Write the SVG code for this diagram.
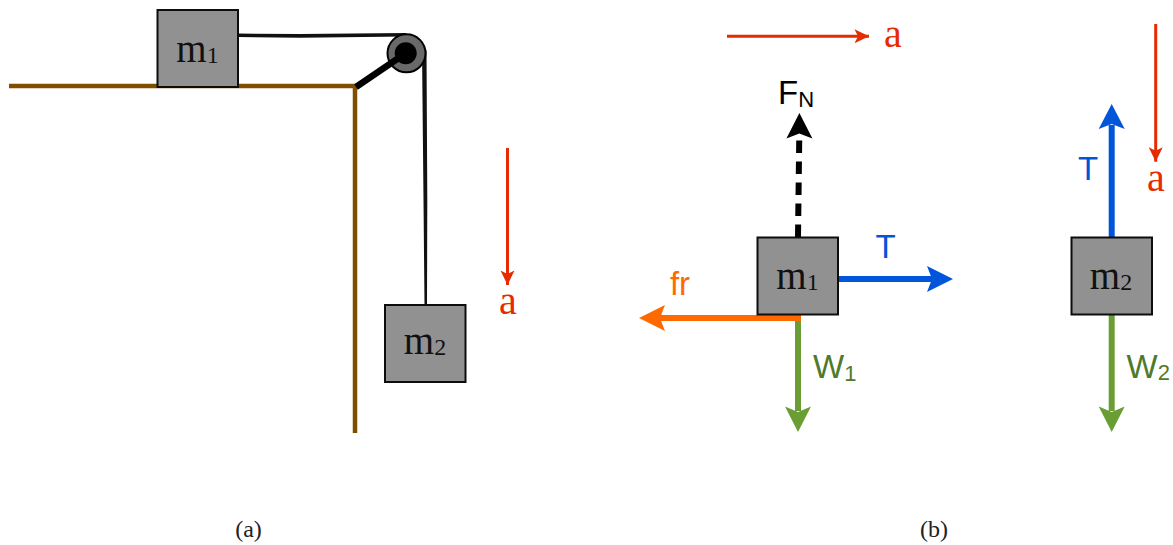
<svg xmlns="http://www.w3.org/2000/svg" width="1173" height="545" viewBox="0 0 1173 545">
<style>
.block{fill:#919191;stroke:#0d0d0d;stroke-width:2}
.serif{font-family:"Liberation Serif","Times New Roman",serif}
.sans{font-family:"Liberation Sans",Arial,sans-serif}
.m{font-size:39px;fill:#111;text-anchor:middle}
.sub{font-size:24px}
.a{font-size:40px;fill:#e62b00;text-anchor:middle}
.cap{font-size:24px;fill:#222;text-anchor:middle}
.f{font-size:33px}
.subf{font-size:22px}
.red{stroke:#e62b00;stroke-width:3;fill:none}
.force{stroke-width:6;fill:none}
</style>
<defs>
<marker id="hr" markerUnits="userSpaceOnUse" markerWidth="16" markerHeight="16" refX="15" refY="8" orient="auto"><path d="M15 8L0.500 1L4 8L0.500 15Z" fill="#e62b00"/></marker>
</defs>
<g id="ground" fill="none" stroke="#7f4e00" stroke-width="4.500">
<path d="M9 86H355V433"/>
</g>
<g id="connectors">
<path d="M238 33.500L300 34L406 33L406 36.500L300 37.800L238 37Z" fill="#111"/>
<path d="M422 50L426.500 50L427.300 200L427 305L424.500 305L423.500 200Z" fill="#111"/>
<path class="red" d="M507.500 148V285" marker-end="url(#hr)"/>
<path class="red" d="M727 36.300H869" marker-end="url(#hr)"/>
<path class="red" d="M1155.700 24V161.700" marker-end="url(#hr)"/>
<path class="force" stroke="#000" stroke-dasharray="12.500 8.500" d="M798 237L799.300 134"/>
<path fill="#000" d="M799.400 113L812.400 138.500L799.300 133.500L786.400 138.500Z"/>
<path class="force" stroke="#0055d9" d="M838 279H932"/>
<path fill="#0055d9" d="M953 279L927 266L932 279L927 292Z"/>
<path class="force" stroke="#0055d9" d="M1111.700 237V125"/>
<path fill="#0055d9" d="M1111.700 104L1098.700 129L1111.700 124L1124.700 129Z"/>
<path class="force" stroke="#6a9e35" d="M798 314V411"/>
<path fill="#6a9e35" d="M798 432L785 406.500L798 412L811 406.500Z"/>
<path class="force" stroke="#6a9e35" d="M1111.700 314V411"/>
<path fill="#6a9e35" d="M1111.700 432L1098.700 406.500L1111.700 412L1124.700 406.500Z"/>
<path class="force" stroke="#ff6a00" d="M801 318H660"/>
<path fill="#ff6a00" d="M639 318L665 305L660 318L665 331Z"/>
</g>
<g id="pulley">
<circle cx="406.500" cy="53.300" r="19" fill="#696969" stroke="#000" stroke-width="2"/>
<path d="M356 87L406 53" stroke="#000" stroke-width="6.500" fill="none"/>
<circle cx="405.700" cy="53.300" r="11" fill="#000"/>
</g>
<g id="m1a">
<rect class="block" x="157.500" y="10" width="80.500" height="77"/>
<text class="serif m" x="197.500" y="62">m<tspan class="sub" dy="1">1</tspan></text>
</g>
<g id="m2a">
<rect class="block" x="385" y="305" width="80.500" height="77"/>
<text class="serif m" x="425" y="354">m<tspan class="sub" dy="1">2</tspan></text>
</g>
<g id="m1b">
<rect class="block" x="757.500" y="237.500" width="80.500" height="77"/>
<text class="serif m" x="797.500" y="289">m<tspan class="sub" dy="1">1</tspan></text>
</g>
<g id="m2b">
<rect class="block" x="1071.500" y="237.500" width="80.500" height="77"/>
<text class="serif m" x="1111" y="289">m<tspan class="sub" dy="1">2</tspan></text>
</g>
<g id="labels">
<text class="serif a" x="508" y="314">a</text>
<text class="serif a" x="893" y="46.500">a</text>
<text class="serif a" x="1156" y="191">a</text>
<text class="sans f" x="778" y="104" fill="#000">F<tspan class="subf" dy="2.500">N</tspan></text>
<text class="sans f" x="885.600" y="258" text-anchor="middle" fill="#0055d9">T</text>
<text class="sans f" x="1088" y="180" text-anchor="middle" fill="#0055d9">T</text>
<text class="sans f" x="680" y="295" text-anchor="middle" fill="#ff6a00">fr</text>
<text class="sans f" x="813" y="378" fill="#4f7a2a">W<tspan class="subf" dy="2.500">1</tspan></text>
<text class="sans f" x="1126.500" y="378" fill="#4f7a2a">W<tspan class="subf" dy="1.500">2</tspan></text>
<text class="serif cap" x="248.500" y="537">(a)</text>
<text class="serif cap" x="934" y="537">(b)</text>
</g>
</svg>
